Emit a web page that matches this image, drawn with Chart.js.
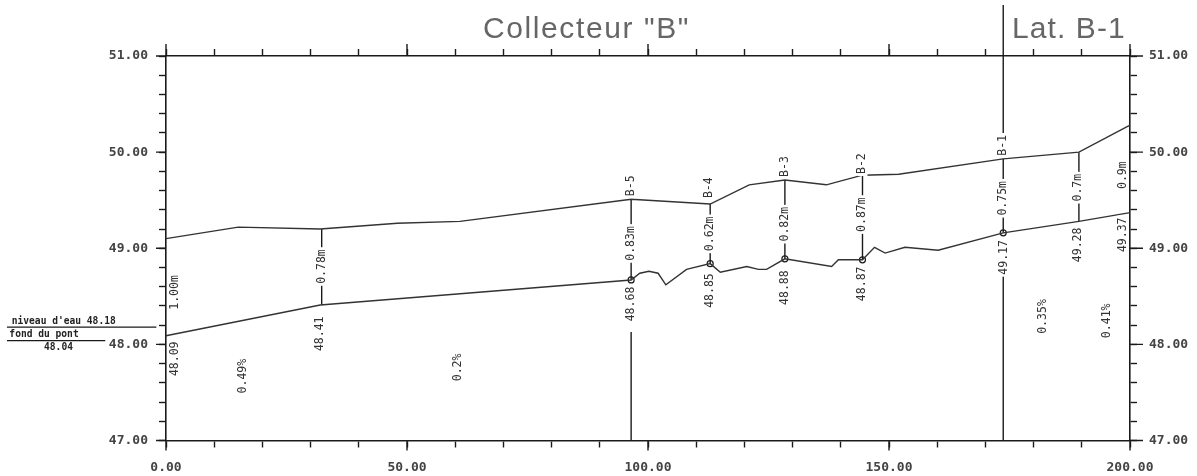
<!DOCTYPE html>
<html><head><meta charset="utf-8">
<script src="https://cdn.jsdelivr.net/npm/chart.js@4"></script>
<style>html,body{margin:0;padding:0;background:#fff}canvas{display:block;filter:blur(0.45px)}</style>
</head><body><canvas id="c" width="1197" height="476"></canvas>
<script>
const terrainX=[0,15,32,48,61,96.5,112.9,121,128.4,137,144.5,152,173.7,189.4,200];
const terrainY=[49.10,49.22,49.20,49.26,49.28,49.51,49.46,49.66,49.71,49.66,49.76,49.77,49.93,50.00,50.28];
const bedX=[0,32,96.5,98.3,100.2,102.1,103.7,108,112.9,115,120.5,122.9,124.6,128.4,138.1,139.5,144.5,147,149.2,153.3,160.2,173.7,189.4,200];
const bedY=[48.09,48.41,48.67,48.74,48.76,48.74,48.62,48.78,48.84,48.75,48.81,48.78,48.78,48.89,48.81,48.88,48.88,49.01,48.95,49.01,48.98,49.16,49.28,49.37];
const markerX=[96.5,112.9,128.4,144.5,173.7];
const markerY=[48.67,48.84,48.89,48.88,49.16];
const dropLines=[[32.3,48.41,49.20],[96.5,48.67,49.51],[96.5,47,48.13],[112.9,48.84,49.46],[128.4,48.89,49.71],[144.5,48.88,49.76],[173.7,49.16,49.93],[173.7,47,48.73],[173.7,50.2,51.53],[189.4,49.28,50.0]];
const levelLines=[[-33,-2,48.18],[-33,-12.6,48.04]];
const verticalLabels=[
[1.9,48.54,"1.00m"],[1.9,47.85,"48.09"],[16,47.67,"0.49%"],[32.3,48.81,"0.78m"],[32,48.11,"48.41"],[60.6,47.76,"0.2%"],
[96.5,49.65,"B-5"],[96.5,49.05,"0.83m"],[96.5,48.42,"48.68"],
[112.6,49.63,"B-4"],[112.8,49.15,"0.62m"],[112.8,48.56,"48.85"],
[128.4,49.85,"B-3"],[128.4,49.25,"0.82m"],[128.4,48.59,"48.88"],
[144.5,49.88,"B-2"],[144.3,49.35,"0.87m"],[144.3,48.63,"48.87"],
[173.7,50.07,"B-1"],[173.7,49.52,"0.75m"],[173.9,48.905,"49.17"],
[189.2,49.63,"0.7m"],[189.2,49.035,"49.28"],[198.5,49.76,"0.9m"],[198.5,49.14,"49.37"],
[182,48.29,"0.35%"],[195.2,48.245,"0.41%"]];
const levelTexts=[[-32,48.235,"niveau d'eau 48.18"],[-32.5,48.10,"fond du pont"],[-25.3,47.965,"48.04"]];
const titleText='Collecteur "B"';
const lateralText='Lat. B-1';

const MONO='"DejaVu Sans Mono",monospace';
const ink='#1a1a1a';
function line(data,w,color){return {data,showLine:true,pointRadius:0,borderColor:color||ink,borderWidth:w,clip:false,tension:0};}
const datasets=[
 line(terrainX.map((x,i)=>({x,y:terrainY[i]})),1.4,'#333'),
 line(bedX.map((x,i)=>({x,y:bedY[i]})),1.4,'#333'),
 ...dropLines.map(d=>line([{x:d[0],y:d[1]},{x:d[0],y:d[2]}],1.4)),
 ...levelLines.map(d=>line([{x:d[0],y:d[2]},{x:d[1],y:d[2]}],1.2)),
 {data:markerX.map((x,i)=>({x,y:markerY[i]})),showLine:false,pointRadius:3,pointBorderColor:ink,pointBackgroundColor:'rgba(0,0,0,0)',pointBorderWidth:1.2,clip:false}
];
const annotate={id:'annotate',afterDatasetsDraw(ch){
 const c=ch.ctx,X=ch.scales.x,Y=ch.scales.y,a=ch.chartArea;
 c.save();
 c.strokeStyle=ink;c.lineWidth=1.4;c.beginPath();
 X.ticks.forEach(t=>{if(t.value%50===0){const p=X.getPixelForValue(t.value);c.moveTo(p,a.bottom);c.lineTo(p,a.bottom+10);c.moveTo(p,a.top);c.lineTo(p,a.top-12);}});
 Y.ticks.forEach(t=>{if(Math.abs(t.value-Math.round(t.value))<1e-6){const p=Y.getPixelForValue(t.value);c.moveTo(a.left,p);c.lineTo(a.left-10,p);c.moveTo(a.right,p);c.lineTo(a.right+13,p);}});
 c.stroke();
 c.fillStyle=ink;c.textBaseline='middle';
 verticalLabels.forEach(([x,y,s])=>{
  c.save();c.translate(X.getPixelForValue(x),Y.getPixelForValue(y));c.rotate(-Math.PI/2);
  c.font='11.5px '+MONO;const w=c.measureText(s).width;
  c.fillStyle='#fff';c.fillRect(-w/2-2,-5,w+4,10);
  c.fillStyle='#333';c.textAlign='center';c.fillText(s,0,0);c.restore();});
 c.textAlign='left';c.font='bold 9.6px '+MONO;c.fillStyle='#222';
 levelTexts.forEach(([x,y,s])=>c.fillText(s,X.getPixelForValue(x),Y.getPixelForValue(y)));
 c.fillStyle='#666';c.font='30px "Liberation Sans",sans-serif';
 c.textAlign='left';
 c.letterSpacing='1.6px';c.fillText(titleText,483,30);
 c.letterSpacing='1.1px';c.fillText(lateralText,1012,30);
 c.restore();
}};
const tickFont={family:MONO,size:13,weight:'bold'};
const yTick=v=>Math.abs(v-Math.round(v))<1e-6?v.toFixed(2):'';
const xTick=v=>v%50===0?v.toFixed(2):'';
const grid={drawOnChartArea:false,tickLength:7,tickColor:ink,tickWidth:1.4};
const border={color:ink,width:1.6};
new Chart(document.getElementById('c'),{type:'scatter',data:{datasets},plugins:[annotate],options:{
 responsive:false,animation:false,devicePixelRatio:1,
 layout:{padding:0},
 plugins:{legend:{display:false},tooltip:{enabled:false},title:{display:false}},
 scales:{
  x:{type:'linear',position:'bottom',min:0,max:200,grid,border,afterFit(s){s.height=35.5},
     ticks:{stepSize:10,autoSkip:false,maxRotation:0,color:'#444',font:tickFont,padding:12,callback:xTick}},
  xTop:{type:'linear',position:'top',min:0,max:200,grid,border,afterFit(s){s.height=56},
     ticks:{stepSize:10,autoSkip:false,display:false}},
  y:{type:'linear',position:'left',min:47,max:51,grid,border,afterFit(s){s.width=166},
     ticks:{stepSize:0.2,autoSkip:false,color:'#444',font:tickFont,padding:11,callback:yTick}},
  yRight:{type:'linear',position:'right',min:47,max:51,grid,border,afterFit(s){s.width=67},
     ticks:{stepSize:0.2,autoSkip:false,color:'#444',font:tickFont,padding:12,callback:yTick}}
 }}});
</script></body></html>
